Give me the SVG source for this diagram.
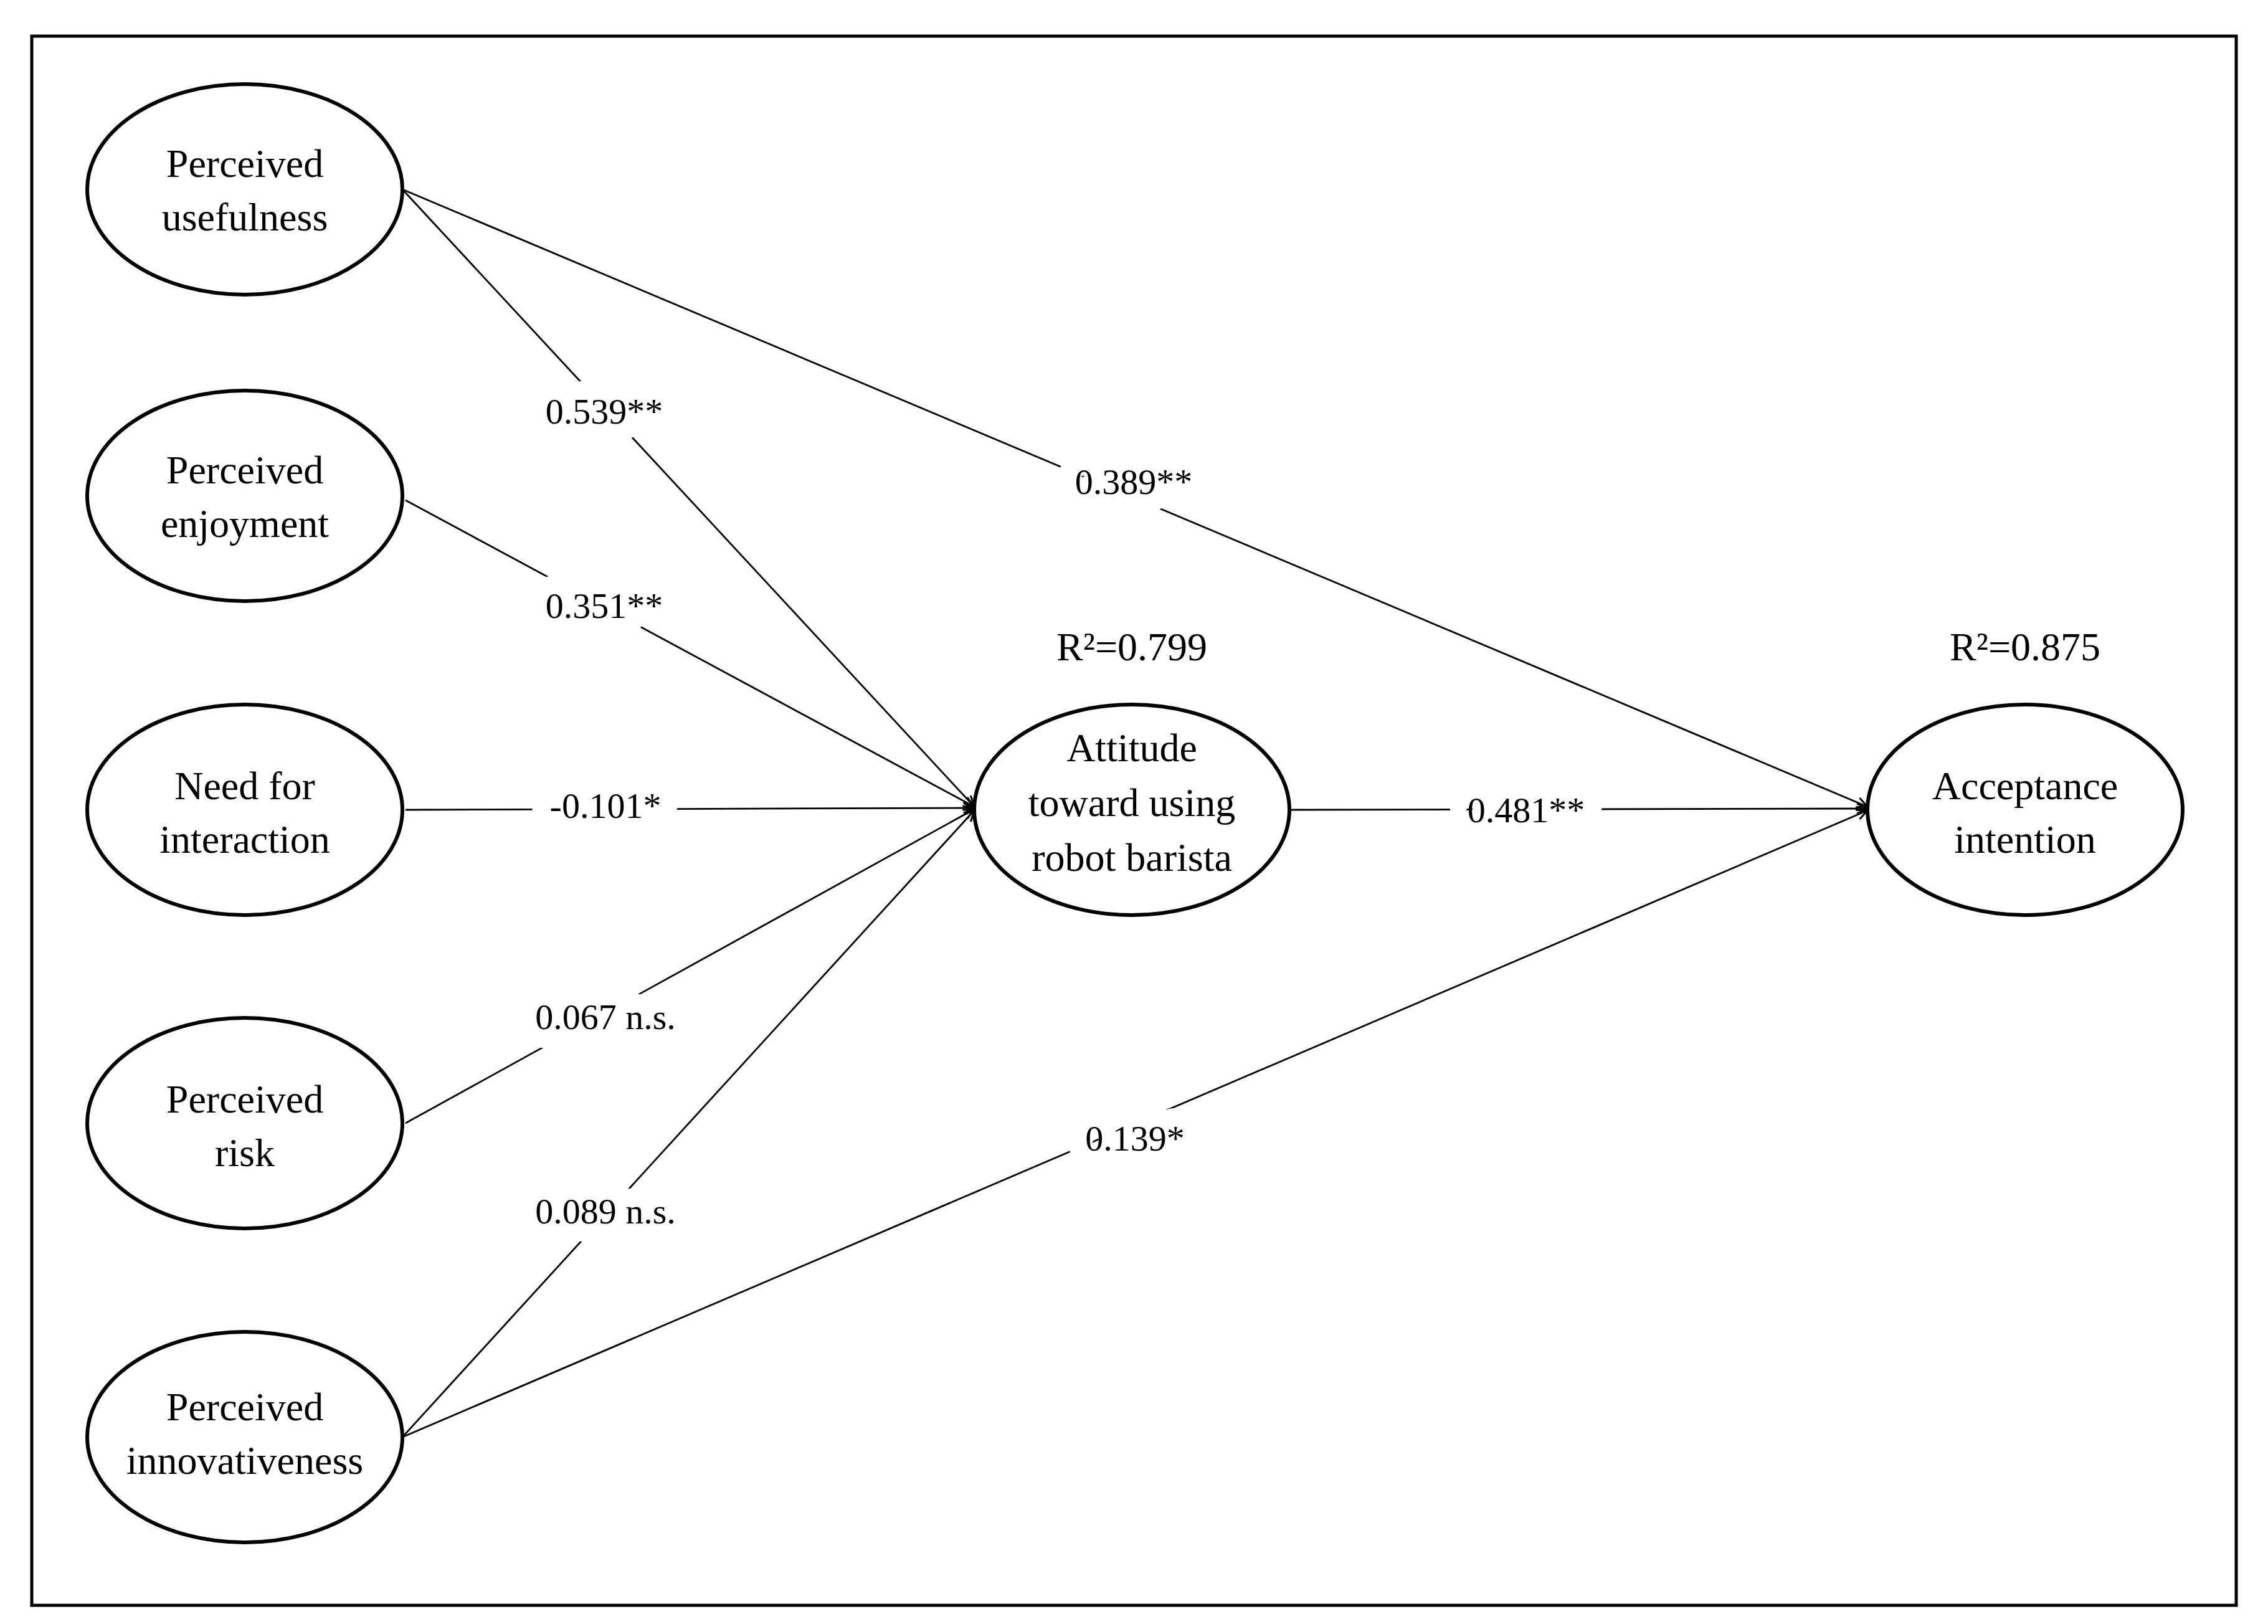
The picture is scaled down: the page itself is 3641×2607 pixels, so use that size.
<svg xmlns="http://www.w3.org/2000/svg" width="3641" height="2607" viewBox="0 0 3641 2607">
<style>
.n ellipse{fill:#fff;stroke:#000;stroke-width:6}
text{font-family:"Liberation Serif",serif;font-size:64px;text-anchor:middle;fill:#000}
.c line{stroke:#000;stroke-width:2.8;fill:none}
.lb{stroke:#fff;stroke-width:60;paint-order:stroke;stroke-linejoin:round;font-size:58px}
</style>
<defs><marker id="a" viewBox="0 0 20 20" refX="19" refY="10" markerWidth="20" markerHeight="20" markerUnits="userSpaceOnUse" orient="auto"><polyline points="2,2 19,10 2,18" fill="none" stroke="#000" stroke-width="3"/></marker></defs>
<rect x="51" y="58" width="3539" height="2519" fill="#fff" stroke="#000" stroke-width="5"/>
<g class="c">
<line x1="646" y1="304" x2="1564" y2="1295" marker-end="url(#a)"/>
<line x1="646" y1="304" x2="2998" y2="1295" marker-end="url(#a)"/>
<line x1="651" y1="803" x2="1564" y2="1295" marker-end="url(#a)"/>
<line x1="651" y1="1300" x2="1564" y2="1297" marker-end="url(#a)"/>
<line x1="651" y1="1803" x2="1564" y2="1299" marker-end="url(#a)"/>
<line x1="646" y1="2307" x2="1564" y2="1301" marker-end="url(#a)"/>
<line x1="646" y1="2307" x2="2998" y2="1301" marker-end="url(#a)"/>
<line x1="2073" y1="1300" x2="2998" y2="1298" marker-end="url(#a)"/>
</g>
<g id="labels">
<text class="lb" x="970" y="680">0.539**</text>
<text class="lb" x="1820" y="793">0.389**</text>
<text class="lb" x="970" y="992">0.351**</text>
<text class="lb" x="972" y="1313">-0.101*</text>
<text class="lb" x="972" y="1652">0.067 n.s.</text>
<text class="lb" x="972" y="1964">0.089 n.s.</text>
<text class="lb" x="1822" y="1847">0.139*</text>
<text class="lb" x="2450" y="1320">0.481**</text>
<text x="1817" y="1060" font-size="58">R²=0.799</text>
<text x="3251" y="1060" font-size="58">R²=0.875</text>
</g>
<g id="n1" class="n"><ellipse cx="393" cy="304" rx="253" ry="169"/><text x="393" y="284">Perceived</text><text x="393" y="370">usefulness</text></g>
<g id="n2" class="n"><ellipse cx="393" cy="796" rx="253" ry="169"/><text x="393" y="776">Perceived</text><text x="393" y="862">enjoyment</text></g>
<g id="n3" class="n"><ellipse cx="393" cy="1300" rx="253" ry="169"/><text x="393" y="1283">Need for</text><text x="393" y="1369">interaction</text></g>
<g id="n4" class="n"><ellipse cx="393" cy="1803" rx="253" ry="169"/><text x="393" y="1786">Perceived</text><text x="393" y="1872">risk</text></g>
<g id="n5" class="n"><ellipse cx="393" cy="2307" rx="253" ry="169"/><text x="393" y="2280">Perceived</text><text x="393" y="2366">innovativeness</text></g>
<g id="n6" class="n"><ellipse cx="1817" cy="1300" rx="253" ry="169"/><text x="1817" y="1222">Attitude</text><text x="1817" y="1310">toward using</text><text x="1817" y="1398">robot barista</text></g>
<g id="n7" class="n"><ellipse cx="3251" cy="1300" rx="253" ry="169"/><text x="3251" y="1283">Acceptance</text><text x="3251" y="1369">intention</text></g>
</svg>
